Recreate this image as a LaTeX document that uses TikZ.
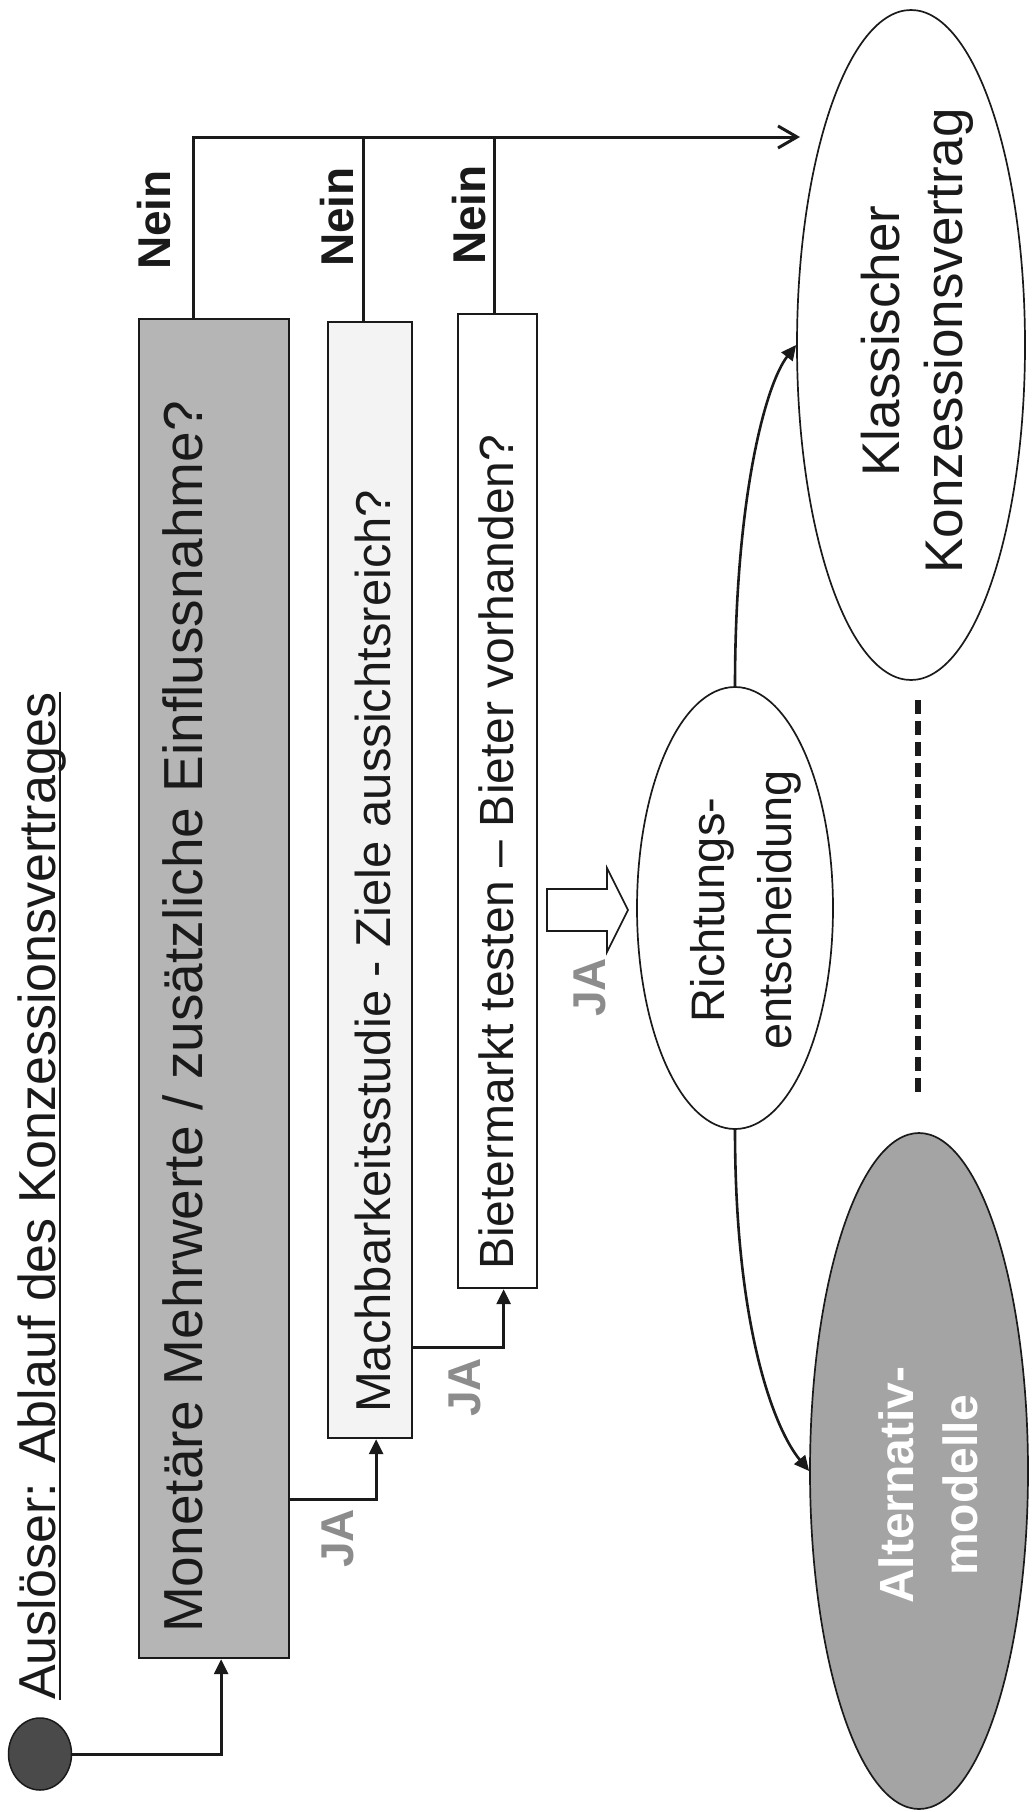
\documentclass[tikz,border=0pt]{standalone}
\usepackage{fontspec}
\setmainfont{Liberation Sans}
\usetikzlibrary{arrows.meta,shapes.geometric}

\definecolor{ink}{HTML}{1A1A1A}
\definecolor{boxgray}{HTML}{B5B5B5}
\definecolor{palegray}{HTML}{F3F3F3}
\definecolor{altgray}{HTML}{A4A4A4}
\definecolor{dotgray}{HTML}{4A4A4A}
\definecolor{jagray}{HTML}{8C8C8C}

\begin{document}
\begin{tikzpicture}[x=1pt,y=-1pt,
  flowbox/.style={draw=ink, line width=2.2pt, inner sep=0pt, anchor=north west},
  oval/.style={ellipse, draw=ink, line width=1.7pt, inner sep=0pt},
  conn/.style={draw=ink, line width=3pt},
  tip/.style={-{Triangle[length=15pt,width=14pt]}},
  barb/.style={-{Straight Barb[length=19pt,width=22pt]}},
  vtext/.style={rotate=90, anchor=base west, inner sep=0pt, text=ink},
  mtext/.style={rotate=90, align=center, inner sep=0pt, text=ink},
  nein/.style={vtext, font=\fontsize{46}{50}\selectfont\bfseries},
  ja/.style={vtext, text=jagray, font=\fontsize{46}{50}\selectfont\bfseries},
  divider/.style={draw=ink, line width=6pt, dash pattern=on 14pt off 7pt},
  blockarrow/.style={draw=ink, line width=1.7pt, fill=white, line join=miter}
]
\useasboundingbox (0,0) rectangle (1032,1812);

% title
\node[vtext, font=\fontsize{52}{60}\selectfont] (title) at (55,1700)
  {Auslöser: Ablauf des Konzessionsvertrages};
\draw[ink, line width=2pt] ([xshift=5pt]title.base west) -- ([xshift=5pt]title.base east);

% start point
\node[ellipse, draw=ink, fill=dotgray, line width=1.5pt, minimum width=63pt, minimum height=72pt, inner sep=0pt]
  (start) at (40,1754) {};

% decision boxes
\node[flowbox, fill=boxgray, minimum width=150pt, minimum height=1339pt] (mono) at (138,318) {};
\node[flowbox, fill=palegray, minimum width=84pt, minimum height=1116pt] (mach) at (327,321) {};
\node[flowbox, fill=white, minimum width=79pt, minimum height=974pt] (biet) at (457,313) {};

\node[vtext, font=\fontsize{55}{60}\selectfont] (monotext) at (202,1633)
  {Monetäre Mehrwerte / zusätzliche Einflussnahme?};
\node[vtext, font=\fontsize{49}{56}\selectfont] (machtext) at (390,1413)
  {Machbarkeitsstudie - Ziele aussichtsreich?};
\node[vtext, font=\fontsize{48}{56}\selectfont] (biettext) at (513,1270)
  {Bietermarkt testen – Bieter vorhanden?};

% outcome ellipses
\node[oval, fill=white, minimum width=196pt, minimum height=442pt] (richt) at (735,908) {};
\node[oval, fill=white, minimum width=228pt, minimum height=670pt] (klass) at (911,345) {};
\node[oval, fill=altgray, minimum width=218pt, minimum height=676pt] (alt) at (919,1471) {};

\node[mtext, font=\fontsize{47}{67}\selectfont] (richttext) at (746,910)
  {Richtungs-\\entscheidung};
\node[mtext, font=\fontsize{53}{63}\selectfont] (klasstext) at (917,341)
  {Klassischer\\Konzessionsvertrag};
\node[mtext, text=white, font=\fontsize{48}{64}\selectfont\bfseries] (alttext) at (928,1485)
  {Alternativ-\\modelle};

% flow from the start point
\draw[conn, tip] (start.east) -| ([xshift=7pt]mono.south);

% JA branches
\draw[conn, tip] ([yshift=160pt]mono.south east) -| ([xshift=6pt]mach.south);
\draw[conn, tip] ([yshift=92pt]mach.south east) -| ([xshift=6pt]biet.south);
\node[ja] (ja1) at (353,1568) {JA};
\node[ja] (ja2) at (480,1417) {JA};
\node[ja] (ja3) at (605,1017) {JA};

% Nein rail
\coordinate (nein1) at (193,137);
\coordinate (nein2) at (363,137);
\coordinate (nein3) at (494,137);
\coordinate (railend) at (800,137);
\draw[conn, barb] (mono.north -| nein1) -- (nein1) -- (railend);
\draw[conn] (mach.north -| nein2) -- (nein2);
\draw[conn] (biet.north -| nein3) -- (nein3);
\node[nein] (nlab1) at (170,270) {Nein};
\node[nein] (nlab2) at (353,267) {Nein};
\node[nein] (nlab3) at (485,265) {Nein};

% hollow arrow into the direction decision
\draw[blockarrow] (547,889) -- (607,889) -- (607,868) -- (628,910) -- (607,952) -- (607,931) -- (547,931) -- cycle;

% branches of the direction decision
\draw[conn, line width=2.6pt, tip] (richt.north) .. controls (735,500) and (765,385) .. (klass.west);
\draw[conn, line width=2.6pt, tip] (richt.south) .. controls (735,1330) and (775,1430) .. (alt.west);

% divider between the two outcomes
\coordinate (divtop) at (918,700);
\coordinate (divbot) at (918,1097);
\draw[divider] (divtop) -- (divbot);
\end{tikzpicture}
\end{document}
